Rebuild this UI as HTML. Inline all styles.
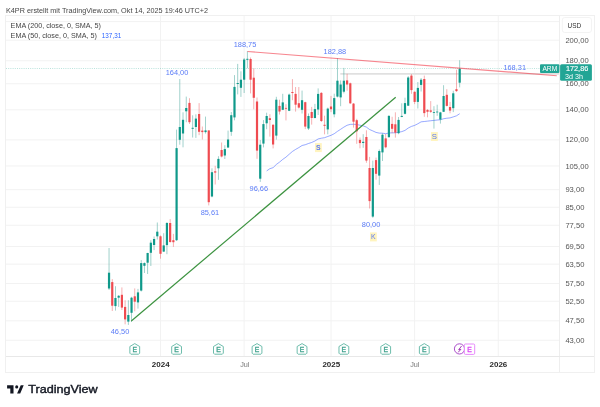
<!DOCTYPE html><html><head><meta charset="utf-8"><style>html,body{margin:0;padding:0;background:#fff;width:600px;height:407px;overflow:hidden}svg{display:block}text{font-family:"Liberation Sans",sans-serif}svg{will-change:transform}</style></head><body>
<svg width="600" height="407" viewBox="0 0 600 407">
<text x="6" y="12.8" font-size="7.7" fill="#474747" textLength="202" lengthAdjust="spacingAndGlyphs">K4PR erstellt mit TradingView.com, Okt 14, 2025 19:46 UTC+2</text>
<line x1="6" x2="559" y1="21.60" y2="21.60" stroke="#f2f2f2" stroke-width="1"/>
<line x1="6" x2="559" y1="40.20" y2="40.20" stroke="#f2f2f2" stroke-width="1"/>
<line x1="6" x2="559" y1="60.77" y2="60.77" stroke="#f2f2f2" stroke-width="1"/>
<line x1="6" x2="559" y1="83.76" y2="83.76" stroke="#f2f2f2" stroke-width="1"/>
<line x1="6" x2="559" y1="109.82" y2="109.82" stroke="#f2f2f2" stroke-width="1"/>
<line x1="6" x2="559" y1="139.91" y2="139.91" stroke="#f2f2f2" stroke-width="1"/>
<line x1="6" x2="559" y1="165.98" y2="165.98" stroke="#f2f2f2" stroke-width="1"/>
<line x1="6" x2="559" y1="189.67" y2="189.67" stroke="#f2f2f2" stroke-width="1"/>
<line x1="6" x2="559" y1="207.23" y2="207.23" stroke="#f2f2f2" stroke-width="1"/>
<line x1="6" x2="559" y1="225.26" y2="225.26" stroke="#f2f2f2" stroke-width="1"/>
<line x1="6" x2="559" y1="246.52" y2="246.52" stroke="#f2f2f2" stroke-width="1"/>
<line x1="6" x2="559" y1="264.15" y2="264.15" stroke="#f2f2f2" stroke-width="1"/>
<line x1="6" x2="559" y1="283.52" y2="283.52" stroke="#f2f2f2" stroke-width="1"/>
<line x1="6" x2="559" y1="301.28" y2="301.28" stroke="#f2f2f2" stroke-width="1"/>
<line x1="6" x2="559" y1="320.82" y2="320.82" stroke="#f2f2f2" stroke-width="1"/>
<line x1="6" x2="559" y1="340.25" y2="340.25" stroke="#f2f2f2" stroke-width="1"/>
<line x1="160.50" x2="160.50" y1="16" y2="356" stroke="#f2f2f2" stroke-width="1"/>
<line x1="244.14" x2="244.14" y1="16" y2="356" stroke="#f2f2f2" stroke-width="1"/>
<line x1="331.00" x2="331.00" y1="16" y2="356" stroke="#f2f2f2" stroke-width="1"/>
<line x1="414.64" x2="414.64" y1="16" y2="356" stroke="#f2f2f2" stroke-width="1"/>
<line x1="498.29" x2="498.29" y1="16" y2="356" stroke="#f2f2f2" stroke-width="1"/>
<rect x="5.5" y="15.5" width="589" height="357" fill="none" stroke="#f0f0f0" stroke-width="1"/>
<line x1="559.5" x2="559.5" y1="16" y2="372" stroke="#eeeeee"/>
<line x1="6" x2="594" y1="356.5" y2="356.5" stroke="#e8e8e8"/>
<text x="10.6" y="28.3" font-size="7.2" fill="#444" textLength="90.3" lengthAdjust="spacingAndGlyphs">EMA (200, close, 0, SMA, 5)</text>
<text x="10.6" y="37.8" font-size="7.2" fill="#444" textLength="86.3" lengthAdjust="spacingAndGlyphs">EMA (50, close, 0, SMA, 5)</text>
<text x="101.8" y="37.8" font-size="7.2" fill="#2962ff" textLength="19.4" lengthAdjust="spacingAndGlyphs">137,31</text>
<line x1="6" x2="540" y1="68.5" y2="68.5" stroke="#089981" stroke-opacity="0.28" stroke-width="1" stroke-dasharray="1 1.2"/>
<line x1="340.3" x2="559" y1="73.9" y2="73.9" stroke="#e0e0e0" stroke-width="1.6"/>
<polyline points="266.66,170.93 269.88,168.66 273.10,167.66 276.31,164.49 279.53,162.12 282.75,159.40 285.96,157.14 289.18,154.27 292.40,151.47 295.61,149.40 298.83,147.58 302.05,145.49 305.26,144.72 308.48,143.51 311.70,142.44 314.92,141.02 318.13,138.94 321.35,138.21 324.57,137.70 327.78,136.48 331.00,135.33 334.22,133.73 337.44,131.36 340.65,129.29 343.87,127.14 347.09,125.28 350.30,124.37 353.52,124.26 356.74,124.53 359.95,125.23 363.17,125.85 366.39,127.11 369.61,129.54 372.82,130.91 376.04,132.43 379.26,133.12 382.47,133.18 385.69,133.72 388.91,132.99 392.12,132.82 395.34,132.82 398.56,132.29 401.77,131.62 404.99,130.42 408.21,128.05 411.43,126.42 414.64,125.40 417.86,123.78 421.08,121.85 424.29,121.50 427.51,121.11 430.73,120.74 433.94,120.39 437.16,120.04 440.38,119.73 443.60,118.75 446.81,118.23 450.03,117.92 453.25,116.90 456.46,115.82 459.68,113.73" fill="none" stroke="#4a68ff" stroke-width="0.8" stroke-opacity="0.72"/>
<rect x="108.58" y="248.00" width="0.9" height="42.00" fill="#2f9c90" fill-opacity="0.5"/>
<rect x="107.93" y="272.70" width="2.2" height="15.80" fill="#0f998a"/>
<rect x="111.80" y="279.10" width="0.9" height="31.90" fill="#ee5357" fill-opacity="0.5"/>
<rect x="111.15" y="282.10" width="2.2" height="23.60" fill="#ef4b50"/>
<rect x="115.01" y="286.20" width="0.9" height="24.40" fill="#2f9c90" fill-opacity="0.5"/>
<rect x="114.36" y="298.00" width="2.2" height="8.10" fill="#0f998a"/>
<rect x="118.23" y="295.00" width="0.9" height="11.90" fill="#2f9c90" fill-opacity="0.5"/>
<rect x="117.58" y="295.80" width="2.2" height="1.90" fill="#0f998a"/>
<rect x="121.45" y="287.40" width="0.9" height="22.60" fill="#ee5357" fill-opacity="0.5"/>
<rect x="120.80" y="294.80" width="2.2" height="12.80" fill="#ef4b50"/>
<rect x="124.66" y="300.20" width="0.9" height="24.10" fill="#ee5357" fill-opacity="0.5"/>
<rect x="124.01" y="306.90" width="2.2" height="12.50" fill="#ef4b50"/>
<rect x="127.88" y="300.20" width="0.9" height="24.70" fill="#2f9c90" fill-opacity="0.5"/>
<rect x="127.23" y="315.00" width="2.2" height="6.60" fill="#0f998a"/>
<rect x="131.10" y="296.80" width="0.9" height="25.20" fill="#2f9c90" fill-opacity="0.5"/>
<rect x="130.45" y="297.70" width="2.2" height="15.10" fill="#0f998a"/>
<rect x="134.31" y="288.40" width="0.9" height="22.90" fill="#ee5357" fill-opacity="0.5"/>
<rect x="133.66" y="296.30" width="2.2" height="5.40" fill="#ef4b50"/>
<rect x="137.53" y="288.90" width="0.9" height="19.70" fill="#2f9c90" fill-opacity="0.5"/>
<rect x="136.88" y="292.40" width="2.2" height="10.00" fill="#0f998a"/>
<rect x="140.75" y="260.10" width="0.9" height="31.40" fill="#2f9c90" fill-opacity="0.5"/>
<rect x="140.10" y="263.10" width="2.2" height="27.50" fill="#0f998a"/>
<rect x="143.97" y="262.40" width="0.9" height="10.60" fill="#2f9c90" fill-opacity="0.5"/>
<rect x="143.31" y="263.10" width="2.2" height="2.70" fill="#0f998a"/>
<rect x="147.18" y="252.80" width="0.9" height="21.20" fill="#2f9c90" fill-opacity="0.5"/>
<rect x="146.53" y="253.00" width="2.2" height="9.70" fill="#0f998a"/>
<rect x="150.40" y="240.20" width="0.9" height="25.80" fill="#2f9c90" fill-opacity="0.5"/>
<rect x="149.75" y="242.70" width="2.2" height="10.10" fill="#0f998a"/>
<rect x="153.62" y="236.50" width="0.9" height="13.60" fill="#2f9c90" fill-opacity="0.5"/>
<rect x="152.97" y="239.00" width="2.2" height="6.00" fill="#0f998a"/>
<rect x="156.83" y="222.50" width="0.9" height="17.00" fill="#2f9c90" fill-opacity="0.5"/>
<rect x="156.18" y="231.70" width="2.2" height="4.60" fill="#0f998a"/>
<rect x="160.05" y="235.40" width="0.9" height="23.30" fill="#ee5357" fill-opacity="0.5"/>
<rect x="159.40" y="236.30" width="2.2" height="17.50" fill="#ef4b50"/>
<rect x="163.27" y="233.20" width="0.9" height="18.80" fill="#2f9c90" fill-opacity="0.5"/>
<rect x="162.62" y="245.40" width="2.2" height="6.20" fill="#0f998a"/>
<rect x="166.48" y="222.10" width="0.9" height="32.10" fill="#2f9c90" fill-opacity="0.5"/>
<rect x="165.83" y="223.00" width="2.2" height="22.10" fill="#0f998a"/>
<rect x="169.70" y="219.10" width="0.9" height="23.60" fill="#ee5357" fill-opacity="0.5"/>
<rect x="169.05" y="223.00" width="2.2" height="19.00" fill="#ef4b50"/>
<rect x="172.92" y="233.90" width="0.9" height="13.00" fill="#ee5357" fill-opacity="0.5"/>
<rect x="172.27" y="240.20" width="2.2" height="2.00" fill="#ef4b50"/>
<rect x="176.14" y="129.60" width="0.9" height="111.40" fill="#2f9c90" fill-opacity="0.5"/>
<rect x="175.49" y="148.10" width="2.2" height="92.10" fill="#0f998a"/>
<rect x="179.35" y="79.00" width="0.9" height="65.70" fill="#2f9c90" fill-opacity="0.5"/>
<rect x="178.70" y="127.00" width="2.2" height="12.80" fill="#0f998a"/>
<rect x="182.57" y="112.30" width="0.9" height="35.00" fill="#2f9c90" fill-opacity="0.5"/>
<rect x="181.92" y="119.80" width="2.2" height="13.70" fill="#0f998a"/>
<rect x="185.79" y="96.60" width="0.9" height="25.60" fill="#2f9c90" fill-opacity="0.5"/>
<rect x="185.14" y="108.00" width="2.2" height="3.30" fill="#0f998a"/>
<rect x="189.00" y="98.20" width="0.9" height="25.80" fill="#ee5357" fill-opacity="0.5"/>
<rect x="188.35" y="102.90" width="2.2" height="19.30" fill="#ef4b50"/>
<rect x="192.22" y="115.30" width="0.9" height="22.20" fill="#2f9c90" fill-opacity="0.5"/>
<rect x="191.57" y="127.80" width="2.2" height="1.00" fill="#0f998a"/>
<rect x="195.44" y="114.30" width="0.9" height="23.60" fill="#2f9c90" fill-opacity="0.5"/>
<rect x="194.79" y="118.60" width="2.2" height="8.40" fill="#0f998a"/>
<rect x="198.65" y="103.10" width="0.9" height="32.00" fill="#ee5357" fill-opacity="0.5"/>
<rect x="198.00" y="114.00" width="2.2" height="17.80" fill="#ef4b50"/>
<rect x="201.87" y="126.50" width="0.9" height="13.00" fill="#ee5357" fill-opacity="0.5"/>
<rect x="201.22" y="130.60" width="2.2" height="1.50" fill="#ef4b50"/>
<rect x="205.09" y="116.60" width="0.9" height="17.00" fill="#2f9c90" fill-opacity="0.5"/>
<rect x="204.44" y="130.40" width="2.2" height="1.70" fill="#0f998a"/>
<rect x="208.31" y="130.40" width="0.9" height="75.00" fill="#ee5357" fill-opacity="0.5"/>
<rect x="207.66" y="130.40" width="2.2" height="71.80" fill="#ef4b50"/>
<rect x="211.52" y="168.30" width="0.9" height="29.00" fill="#2f9c90" fill-opacity="0.5"/>
<rect x="210.87" y="172.20" width="2.2" height="24.30" fill="#0f998a"/>
<rect x="214.74" y="165.80" width="0.9" height="18.70" fill="#ee5357" fill-opacity="0.5"/>
<rect x="214.09" y="171.30" width="2.2" height="1.30" fill="#ef4b50"/>
<rect x="217.96" y="156.20" width="0.9" height="23.60" fill="#2f9c90" fill-opacity="0.5"/>
<rect x="217.31" y="158.90" width="2.2" height="9.40" fill="#0f998a"/>
<rect x="221.17" y="142.50" width="0.9" height="14.90" fill="#ee5357" fill-opacity="0.5"/>
<rect x="220.52" y="150.00" width="2.2" height="6.50" fill="#ef4b50"/>
<rect x="224.39" y="145.20" width="0.9" height="13.80" fill="#2f9c90" fill-opacity="0.5"/>
<rect x="223.74" y="149.10" width="2.2" height="6.40" fill="#0f998a"/>
<rect x="227.61" y="130.60" width="0.9" height="17.40" fill="#2f9c90" fill-opacity="0.5"/>
<rect x="226.96" y="139.50" width="2.2" height="8.00" fill="#0f998a"/>
<rect x="230.82" y="112.00" width="0.9" height="23.80" fill="#2f9c90" fill-opacity="0.5"/>
<rect x="230.17" y="115.20" width="2.2" height="16.60" fill="#0f998a"/>
<rect x="234.04" y="75.10" width="0.9" height="45.20" fill="#2f9c90" fill-opacity="0.5"/>
<rect x="233.39" y="86.90" width="2.2" height="30.50" fill="#0f998a"/>
<rect x="237.26" y="63.90" width="0.9" height="30.50" fill="#2f9c90" fill-opacity="0.5"/>
<rect x="236.61" y="83.00" width="2.2" height="1.00" fill="#0f998a"/>
<rect x="240.48" y="71.30" width="0.9" height="25.60" fill="#2f9c90" fill-opacity="0.5"/>
<rect x="239.83" y="79.70" width="2.2" height="8.10" fill="#0f998a"/>
<rect x="243.69" y="58.00" width="0.9" height="35.00" fill="#2f9c90" fill-opacity="0.5"/>
<rect x="243.04" y="59.50" width="2.2" height="20.20" fill="#0f998a"/>
<rect x="246.91" y="51.20" width="0.9" height="17.10" fill="#2f9c90" fill-opacity="0.5"/>
<rect x="246.26" y="58.80" width="2.2" height="1.00" fill="#0f998a"/>
<rect x="250.13" y="57.50" width="0.9" height="35.90" fill="#ee5357" fill-opacity="0.5"/>
<rect x="249.48" y="59.00" width="2.2" height="20.70" fill="#ef4b50"/>
<rect x="253.34" y="68.30" width="0.9" height="41.00" fill="#ee5357" fill-opacity="0.5"/>
<rect x="252.69" y="77.70" width="2.2" height="20.10" fill="#ef4b50"/>
<rect x="256.56" y="97.50" width="0.9" height="61.30" fill="#ee5357" fill-opacity="0.5"/>
<rect x="255.91" y="101.50" width="2.2" height="49.10" fill="#ef4b50"/>
<rect x="259.78" y="140.00" width="0.9" height="41.90" fill="#2f9c90" fill-opacity="0.5"/>
<rect x="259.13" y="144.70" width="2.2" height="34.00" fill="#0f998a"/>
<rect x="262.99" y="120.10" width="0.9" height="27.30" fill="#2f9c90" fill-opacity="0.5"/>
<rect x="262.34" y="124.10" width="2.2" height="19.50" fill="#0f998a"/>
<rect x="266.21" y="112.70" width="0.9" height="16.50" fill="#2f9c90" fill-opacity="0.5"/>
<rect x="265.56" y="116.00" width="2.2" height="7.30" fill="#0f998a"/>
<rect x="269.43" y="114.20" width="0.9" height="22.40" fill="#ee5357" fill-opacity="0.5"/>
<rect x="268.78" y="118.20" width="2.2" height="1.80" fill="#ef4b50"/>
<rect x="272.65" y="124.10" width="0.9" height="24.30" fill="#ee5357" fill-opacity="0.5"/>
<rect x="272.00" y="124.80" width="2.2" height="19.70" fill="#ef4b50"/>
<rect x="275.86" y="96.80" width="0.9" height="42.80" fill="#2f9c90" fill-opacity="0.5"/>
<rect x="275.21" y="99.70" width="2.2" height="35.90" fill="#0f998a"/>
<rect x="279.08" y="99.70" width="0.9" height="14.80" fill="#ee5357" fill-opacity="0.5"/>
<rect x="278.43" y="105.90" width="2.2" height="5.60" fill="#ef4b50"/>
<rect x="282.30" y="93.80" width="0.9" height="16.30" fill="#2f9c90" fill-opacity="0.5"/>
<rect x="281.65" y="102.40" width="2.2" height="7.40" fill="#0f998a"/>
<rect x="285.51" y="104.20" width="0.9" height="16.20" fill="#ee5357" fill-opacity="0.5"/>
<rect x="284.86" y="107.90" width="2.2" height="0.80" fill="#ef4b50"/>
<rect x="288.73" y="93.60" width="0.9" height="17.50" fill="#2f9c90" fill-opacity="0.5"/>
<rect x="288.08" y="94.60" width="2.2" height="16.20" fill="#0f998a"/>
<rect x="291.95" y="79.10" width="0.9" height="21.10" fill="#ee5357" fill-opacity="0.5"/>
<rect x="291.30" y="92.00" width="2.2" height="1.00" fill="#ef4b50"/>
<rect x="295.16" y="87.00" width="0.9" height="24.60" fill="#ee5357" fill-opacity="0.5"/>
<rect x="294.51" y="93.90" width="2.2" height="10.80" fill="#ef4b50"/>
<rect x="298.38" y="87.00" width="0.9" height="21.60" fill="#ee5357" fill-opacity="0.5"/>
<rect x="297.73" y="103.20" width="2.2" height="4.40" fill="#ef4b50"/>
<rect x="301.60" y="90.60" width="0.9" height="22.90" fill="#2f9c90" fill-opacity="0.5"/>
<rect x="300.95" y="100.20" width="2.2" height="9.60" fill="#0f998a"/>
<rect x="304.81" y="101.70" width="0.9" height="27.40" fill="#ee5357" fill-opacity="0.5"/>
<rect x="304.16" y="102.20" width="2.2" height="24.40" fill="#ef4b50"/>
<rect x="308.03" y="113.50" width="0.9" height="16.50" fill="#2f9c90" fill-opacity="0.5"/>
<rect x="307.38" y="116.00" width="2.2" height="12.50" fill="#0f998a"/>
<rect x="311.25" y="106.90" width="0.9" height="17.70" fill="#ee5357" fill-opacity="0.5"/>
<rect x="310.60" y="112.00" width="2.2" height="6.00" fill="#ef4b50"/>
<rect x="314.47" y="103.90" width="0.9" height="14.50" fill="#2f9c90" fill-opacity="0.5"/>
<rect x="313.82" y="109.10" width="2.2" height="8.90" fill="#0f998a"/>
<rect x="317.68" y="88.40" width="0.9" height="26.60" fill="#2f9c90" fill-opacity="0.5"/>
<rect x="317.03" y="93.90" width="2.2" height="15.60" fill="#0f998a"/>
<rect x="320.90" y="92.10" width="0.9" height="29.90" fill="#ee5357" fill-opacity="0.5"/>
<rect x="320.25" y="92.90" width="2.2" height="28.10" fill="#ef4b50"/>
<rect x="324.12" y="115.70" width="0.9" height="18.60" fill="#ee5357" fill-opacity="0.5"/>
<rect x="323.47" y="124.80" width="2.2" height="1.00" fill="#ef4b50"/>
<rect x="327.33" y="107.60" width="0.9" height="26.70" fill="#2f9c90" fill-opacity="0.5"/>
<rect x="326.68" y="108.60" width="2.2" height="20.80" fill="#0f998a"/>
<rect x="330.55" y="95.90" width="0.9" height="16.20" fill="#ee5357" fill-opacity="0.5"/>
<rect x="329.90" y="106.50" width="2.2" height="2.70" fill="#ef4b50"/>
<rect x="333.77" y="93.70" width="0.9" height="23.60" fill="#2f9c90" fill-opacity="0.5"/>
<rect x="333.12" y="98.10" width="2.2" height="16.20" fill="#0f998a"/>
<rect x="336.99" y="58.00" width="0.9" height="39.40" fill="#2f9c90" fill-opacity="0.5"/>
<rect x="336.33" y="80.70" width="2.2" height="15.90" fill="#0f998a"/>
<rect x="340.20" y="80.40" width="0.9" height="25.80" fill="#2f9c90" fill-opacity="0.5"/>
<rect x="339.55" y="84.50" width="2.2" height="12.90" fill="#0f998a"/>
<rect x="343.42" y="67.90" width="0.9" height="25.50" fill="#2f9c90" fill-opacity="0.5"/>
<rect x="342.77" y="80.70" width="2.2" height="11.00" fill="#0f998a"/>
<rect x="346.64" y="73.80" width="0.9" height="16.90" fill="#ee5357" fill-opacity="0.5"/>
<rect x="345.99" y="80.40" width="2.2" height="4.10" fill="#ef4b50"/>
<rect x="349.85" y="82.60" width="0.9" height="21.40" fill="#ee5357" fill-opacity="0.5"/>
<rect x="349.20" y="83.30" width="2.2" height="20.00" fill="#ef4b50"/>
<rect x="353.07" y="103.00" width="0.9" height="24.60" fill="#ee5357" fill-opacity="0.5"/>
<rect x="352.42" y="103.60" width="2.2" height="18.10" fill="#ef4b50"/>
<rect x="356.29" y="118.80" width="0.9" height="25.00" fill="#ee5357" fill-opacity="0.5"/>
<rect x="355.64" y="120.20" width="2.2" height="11.10" fill="#ef4b50"/>
<rect x="359.50" y="137.50" width="0.9" height="10.80" fill="#ee5357" fill-opacity="0.5"/>
<rect x="358.85" y="139.90" width="2.2" height="3.20" fill="#ef4b50"/>
<rect x="362.72" y="134.20" width="0.9" height="13.60" fill="#2f9c90" fill-opacity="0.5"/>
<rect x="362.07" y="141.80" width="2.2" height="1.20" fill="#0f998a"/>
<rect x="365.94" y="130.30" width="0.9" height="32.50" fill="#ee5357" fill-opacity="0.5"/>
<rect x="365.29" y="137.00" width="2.2" height="23.60" fill="#ef4b50"/>
<rect x="369.16" y="156.90" width="0.9" height="51.60" fill="#ee5357" fill-opacity="0.5"/>
<rect x="368.50" y="168.00" width="2.2" height="33.10" fill="#ef4b50"/>
<rect x="372.37" y="160.60" width="0.9" height="57.20" fill="#2f9c90" fill-opacity="0.5"/>
<rect x="371.72" y="168.00" width="2.2" height="48.60" fill="#0f998a"/>
<rect x="375.59" y="157.60" width="0.9" height="22.10" fill="#ee5357" fill-opacity="0.5"/>
<rect x="374.94" y="160.10" width="2.2" height="13.70" fill="#ef4b50"/>
<rect x="378.81" y="149.50" width="0.9" height="35.40" fill="#2f9c90" fill-opacity="0.5"/>
<rect x="378.16" y="151.00" width="2.2" height="24.60" fill="#0f998a"/>
<rect x="382.02" y="133.30" width="0.9" height="27.70" fill="#2f9c90" fill-opacity="0.5"/>
<rect x="381.37" y="134.70" width="2.2" height="17.70" fill="#0f998a"/>
<rect x="385.24" y="134.00" width="0.9" height="14.30" fill="#ee5357" fill-opacity="0.5"/>
<rect x="384.59" y="138.40" width="2.2" height="8.90" fill="#ef4b50"/>
<rect x="388.46" y="115.10" width="0.9" height="22.50" fill="#2f9c90" fill-opacity="0.5"/>
<rect x="387.81" y="115.90" width="2.2" height="21.30" fill="#0f998a"/>
<rect x="391.67" y="116.80" width="0.9" height="16.40" fill="#ee5357" fill-opacity="0.5"/>
<rect x="391.02" y="123.90" width="2.2" height="4.90" fill="#ef4b50"/>
<rect x="394.89" y="112.30" width="0.9" height="25.30" fill="#ee5357" fill-opacity="0.5"/>
<rect x="394.24" y="124.30" width="2.2" height="8.40" fill="#ef4b50"/>
<rect x="398.11" y="117.00" width="0.9" height="17.20" fill="#2f9c90" fill-opacity="0.5"/>
<rect x="397.46" y="119.90" width="2.2" height="13.30" fill="#0f998a"/>
<rect x="401.32" y="103.30" width="0.9" height="13.90" fill="#2f9c90" fill-opacity="0.5"/>
<rect x="400.67" y="115.90" width="2.2" height="1.00" fill="#0f998a"/>
<rect x="404.54" y="97.70" width="0.9" height="16.70" fill="#2f9c90" fill-opacity="0.5"/>
<rect x="403.89" y="103.10" width="2.2" height="10.70" fill="#0f998a"/>
<rect x="407.76" y="76.10" width="0.9" height="29.90" fill="#2f9c90" fill-opacity="0.5"/>
<rect x="407.11" y="77.50" width="2.2" height="28.20" fill="#0f998a"/>
<rect x="410.98" y="74.10" width="0.9" height="19.70" fill="#ee5357" fill-opacity="0.5"/>
<rect x="410.33" y="75.60" width="2.2" height="14.50" fill="#ef4b50"/>
<rect x="414.19" y="91.30" width="0.9" height="12.80" fill="#ee5357" fill-opacity="0.5"/>
<rect x="413.54" y="91.80" width="2.2" height="10.10" fill="#ef4b50"/>
<rect x="417.41" y="82.00" width="0.9" height="26.50" fill="#2f9c90" fill-opacity="0.5"/>
<rect x="416.76" y="87.90" width="2.2" height="14.00" fill="#0f998a"/>
<rect x="420.63" y="78.00" width="0.9" height="13.50" fill="#2f9c90" fill-opacity="0.5"/>
<rect x="419.98" y="79.70" width="2.2" height="5.20" fill="#0f998a"/>
<rect x="423.84" y="75.60" width="0.9" height="41.20" fill="#ee5357" fill-opacity="0.5"/>
<rect x="423.19" y="79.00" width="2.2" height="34.10" fill="#ef4b50"/>
<rect x="427.06" y="109.20" width="0.9" height="8.10" fill="#ee5357" fill-opacity="0.5"/>
<rect x="426.41" y="109.90" width="2.2" height="1.90" fill="#ef4b50"/>
<rect x="430.28" y="101.10" width="0.9" height="11.80" fill="#ee5357" fill-opacity="0.5"/>
<rect x="429.63" y="110.40" width="2.2" height="1.40" fill="#ef4b50"/>
<rect x="433.50" y="106.20" width="0.9" height="22.40" fill="#2f9c90" fill-opacity="0.5"/>
<rect x="432.84" y="112.10" width="2.2" height="0.80" fill="#0f998a"/>
<rect x="436.71" y="104.70" width="0.9" height="11.10" fill="#2f9c90" fill-opacity="0.5"/>
<rect x="436.06" y="111.60" width="2.2" height="0.80" fill="#0f998a"/>
<rect x="439.93" y="111.80" width="0.9" height="11.80" fill="#2f9c90" fill-opacity="0.5"/>
<rect x="439.28" y="112.40" width="2.2" height="7.10" fill="#0f998a"/>
<rect x="443.15" y="85.20" width="0.9" height="26.80" fill="#2f9c90" fill-opacity="0.5"/>
<rect x="442.50" y="96.00" width="2.2" height="15.80" fill="#0f998a"/>
<rect x="446.36" y="89.20" width="0.9" height="17.30" fill="#ee5357" fill-opacity="0.5"/>
<rect x="445.71" y="94.80" width="2.2" height="11.10" fill="#ef4b50"/>
<rect x="449.58" y="101.90" width="0.9" height="11.40" fill="#ee5357" fill-opacity="0.5"/>
<rect x="448.93" y="107.00" width="2.2" height="3.60" fill="#ef4b50"/>
<rect x="452.80" y="90.70" width="0.9" height="21.40" fill="#2f9c90" fill-opacity="0.5"/>
<rect x="452.15" y="93.30" width="2.2" height="14.90" fill="#0f998a"/>
<rect x="456.01" y="69.70" width="0.9" height="22.20" fill="#ee5357" fill-opacity="0.5"/>
<rect x="455.36" y="89.20" width="2.2" height="1.90" fill="#ef4b50"/>
<rect x="459.23" y="60.20" width="0.9" height="27.20" fill="#2f9c90" fill-opacity="0.5"/>
<rect x="458.58" y="68.60" width="2.2" height="14.10" fill="#0f998a"/>
<line x1="131.3" y1="321" x2="395.7" y2="97.2" stroke="#3b923f" stroke-width="1.2"/>
<line x1="247.5" y1="51.5" x2="556.8" y2="75.75" stroke="#f23645" stroke-width="1.1" stroke-opacity="0.6"/>
<text x="245.0" y="47.3" font-size="7.4" fill="#5b7cf7" text-anchor="middle" font-weight="normal">188,75</text>
<text x="177" y="74.7" font-size="7.4" fill="#5b7cf7" text-anchor="middle" font-weight="normal">164,00</text>
<text x="334.9" y="53.9" font-size="7.4" fill="#5b7cf7" text-anchor="middle" font-weight="normal">182,88</text>
<text x="209.9" y="215.4" font-size="7.4" fill="#5b7cf7" text-anchor="middle" font-weight="normal">85,61</text>
<text x="258.8" y="191.3" font-size="7.4" fill="#5b7cf7" text-anchor="middle" font-weight="normal">96,66</text>
<text x="371.1" y="226.8" font-size="7.4" fill="#5b7cf7" text-anchor="middle" font-weight="normal">80,00</text>
<text x="120" y="334.2" font-size="7.4" fill="#5b7cf7" text-anchor="middle" font-weight="normal">46,50</text>
<text x="514.7" y="69.5" font-size="7.4" fill="#5b7cf7" text-anchor="middle" font-weight="normal">168,31</text>
<rect x="315.0" y="143.1" width="6.8" height="9" fill="#fff4bf"/>
<text x="318.4" y="150.1" font-size="6.9" fill="#5b7af2" text-anchor="middle" font-weight="bold">S</text>
<rect x="431.0" y="132.0" width="6.8" height="9" fill="#fff4bf"/>
<text x="434.4" y="139.4" font-size="7.8" fill="#5b7af2" text-anchor="middle" font-weight="normal">S</text>
<rect x="370.0" y="232.4" width="6.8" height="9" fill="#fff4bf"/>
<text x="373.4" y="239.4" font-size="6.9" fill="#5b7af2" text-anchor="middle" font-weight="normal">K</text>
<text x="565.4" y="42.7" font-size="7.6" fill="#555">200,00</text>
<text x="565.4" y="63.3" font-size="7.6" fill="#555">180,00</text>
<text x="565.4" y="86.3" font-size="7.6" fill="#555">160,00</text>
<text x="565.4" y="112.3" font-size="7.6" fill="#555">140,00</text>
<text x="565.4" y="142.4" font-size="7.6" fill="#555">120,00</text>
<text x="565.4" y="168.5" font-size="7.6" fill="#555">105,00</text>
<text x="565.4" y="192.2" font-size="7.6" fill="#555">93,00</text>
<text x="565.4" y="209.7" font-size="7.6" fill="#555">85,00</text>
<text x="565.4" y="227.8" font-size="7.6" fill="#555">77,50</text>
<text x="565.4" y="249.0" font-size="7.6" fill="#555">69,50</text>
<text x="565.4" y="266.6" font-size="7.6" fill="#555">63,50</text>
<text x="565.4" y="286.0" font-size="7.6" fill="#555">57,50</text>
<text x="565.4" y="303.8" font-size="7.6" fill="#555">52,50</text>
<text x="565.4" y="323.3" font-size="7.6" fill="#555">47,50</text>
<text x="565.4" y="342.7" font-size="7.6" fill="#555">43,00</text>
<rect x="562.3" y="17.5" width="29.2" height="15" rx="2.5" fill="#fff" stroke="#f3f3f3"/>
<text x="567.5" y="27.9" font-size="6.7" fill="#333" textLength="13.7" lengthAdjust="spacingAndGlyphs">USD</text>
<rect x="540" y="64.2" width="19.4" height="8.7" rx="1" fill="#22a595"/>
<text x="542.4" y="71.3" font-size="7.6" fill="#fff" textLength="14.8" lengthAdjust="spacingAndGlyphs">ARM</text>
<rect x="560.1" y="64.2" width="31.8" height="16.5" rx="1.5" fill="#22a595"/>
<text x="565.9" y="71.3" font-size="7.7" fill="#fff" stroke="#fff" stroke-width="0.15" textLength="22.4" lengthAdjust="spacingAndGlyphs">172,86</text>
<text x="565.1" y="79.2" font-size="7.2" fill="#fff">3d 3h</text>
<text x="151.80" y="367.3" font-size="7.4" fill="#2a2a2a" font-weight="bold" textLength="17.8" lengthAdjust="spacingAndGlyphs">2024</text>
<text x="240.15" y="367.3" font-size="7.4" fill="#777" font-weight="normal" textLength="9.3" lengthAdjust="spacingAndGlyphs">Jul</text>
<text x="322.40" y="367.3" font-size="7.4" fill="#2a2a2a" font-weight="bold" textLength="17.8" lengthAdjust="spacingAndGlyphs">2025</text>
<text x="410.15" y="367.3" font-size="7.4" fill="#777" font-weight="normal" textLength="9.3" lengthAdjust="spacingAndGlyphs">Jul</text>
<text x="489.50" y="367.3" font-size="7.4" fill="#2a2a2a" font-weight="bold" textLength="17.8" lengthAdjust="spacingAndGlyphs">2026</text>
<path d="M130.86,354.2 L129.86,353.2 L129.86,346.5 L134.76,343.6 L139.66,346.5 L139.66,353.2 L138.66,354.2 Z" fill="#fff" stroke="#5db5a3" stroke-width="0.9" stroke-linejoin="round"/>
<text x="134.76" y="352.0" font-size="6.8" fill="#3a9f8a" stroke="#3a9f8a" stroke-width="0.3" text-anchor="middle">E</text>
<path d="M172.69,354.2 L171.69,353.2 L171.69,346.5 L176.59,343.6 L181.49,346.5 L181.49,353.2 L180.49,354.2 Z" fill="#fff" stroke="#5db5a3" stroke-width="0.9" stroke-linejoin="round"/>
<text x="176.59" y="352.0" font-size="6.8" fill="#3a9f8a" stroke="#3a9f8a" stroke-width="0.3" text-anchor="middle">E</text>
<path d="M214.51,354.2 L213.51,353.2 L213.51,346.5 L218.41,343.6 L223.31,346.5 L223.31,353.2 L222.31,354.2 Z" fill="#fff" stroke="#5db5a3" stroke-width="0.9" stroke-linejoin="round"/>
<text x="218.41" y="352.0" font-size="6.8" fill="#3a9f8a" stroke="#3a9f8a" stroke-width="0.3" text-anchor="middle">E</text>
<path d="M253.11,354.2 L252.11,353.2 L252.11,346.5 L257.01,343.6 L261.91,346.5 L261.91,353.2 L260.91,354.2 Z" fill="#fff" stroke="#5db5a3" stroke-width="0.9" stroke-linejoin="round"/>
<text x="257.01" y="352.0" font-size="6.8" fill="#3a9f8a" stroke="#3a9f8a" stroke-width="0.3" text-anchor="middle">E</text>
<path d="M298.15,354.2 L297.15,353.2 L297.15,346.5 L302.05,343.6 L306.95,346.5 L306.95,353.2 L305.95,354.2 Z" fill="#fff" stroke="#5db5a3" stroke-width="0.9" stroke-linejoin="round"/>
<text x="302.05" y="352.0" font-size="6.8" fill="#3a9f8a" stroke="#3a9f8a" stroke-width="0.3" text-anchor="middle">E</text>
<path d="M339.97,354.2 L338.97,353.2 L338.97,346.5 L343.87,343.6 L348.77,346.5 L348.77,353.2 L347.77,354.2 Z" fill="#fff" stroke="#5db5a3" stroke-width="0.9" stroke-linejoin="round"/>
<text x="343.87" y="352.0" font-size="6.8" fill="#3a9f8a" stroke="#3a9f8a" stroke-width="0.3" text-anchor="middle">E</text>
<path d="M381.79,354.2 L380.79,353.2 L380.79,346.5 L385.69,343.6 L390.59,346.5 L390.59,353.2 L389.59,354.2 Z" fill="#fff" stroke="#5db5a3" stroke-width="0.9" stroke-linejoin="round"/>
<text x="385.69" y="352.0" font-size="6.8" fill="#3a9f8a" stroke="#3a9f8a" stroke-width="0.3" text-anchor="middle">E</text>
<path d="M420.39,354.2 L419.39,353.2 L419.39,346.5 L424.29,343.6 L429.19,346.5 L429.19,353.2 L428.19,354.2 Z" fill="#fff" stroke="#5db5a3" stroke-width="0.9" stroke-linejoin="round"/>
<text x="424.29" y="352.0" font-size="6.8" fill="#3a9f8a" stroke="#3a9f8a" stroke-width="0.3" text-anchor="middle">E</text>
<circle cx="459.5" cy="348.9" r="5.1" fill="#fff" stroke="#a23bc4" stroke-width="0.9"/>
<path d="M461.6,346.0 L458.7,349.7 L460.9,349.3 L458.1,352.4" fill="none" stroke="#9c27b0" stroke-width="0.9" stroke-linejoin="round"/>
<rect x="464.3" y="344.0" width="10.4" height="10.4" rx="1.2" fill="#fff" stroke="#e47cfb" stroke-width="0.9"/>
<text x="469.5" y="352.0" font-size="6.8" fill="#db40f5" stroke="#db40f5" stroke-width="0.3" text-anchor="middle">E</text>
<g transform="translate(7.1,383.4) scale(0.458)" fill="#131722"><path d="M14 22H7V11H0V4h14v18zM21.8 22L28.6 22L36.3 4L29.8 4Z"/><circle cx="21" cy="7.6" r="3.4"/></g>
<text x="28.3" y="393.3" font-size="11.2" fill="#131722" stroke="#131722" stroke-width="0.4" textLength="69.4" lengthAdjust="spacingAndGlyphs">TradingView</text>
</svg></body></html>
